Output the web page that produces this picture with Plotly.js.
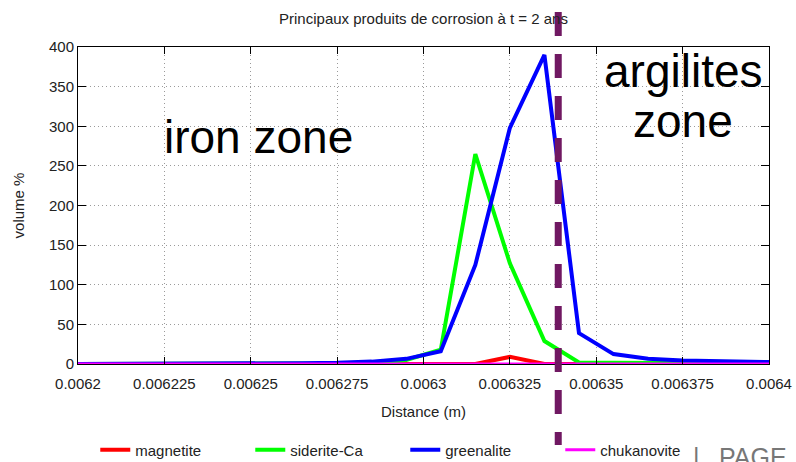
<!DOCTYPE html>
<html><head><meta charset="utf-8">
<script src="https://cdn.plot.ly/plotly-3.0.1.min.js"></script>
<style>html,body{margin:0;padding:0;background:#fff}#chart{width:796px;height:462px}</style>
</head><body><div id="chart"></div>
<script>
// ---- data ----
const distance = [0.0062, 0.006205, 0.006215, 0.006225, 0.006235, 0.006245, 0.006255, 0.006265, 0.006275, 0.006285, 0.006295,
                  0.006305, 0.006315, 0.006325, 0.006335, 0.006345, 0.006355, 0.006365, 0.006375, 0.006385, 0.006395, 0.0064];
const magnetite   = [0, 0, 0, 0, 0, 0, 0, 0, 0, 0, 0, 0, 0, 9, 0, 0, 0, 0, 0, 0, 0, 0];
const sideriteCa  = [0, 0, 0, 0, 0, 0, 0, 0, 0.5, 1, 5, 18, 265, 127, 29, 2, 1.5, 1, 1, 0.5, 0.5, 0.5];
const greenalite  = [0, 0, 0, 0, 0.2, 0.4, 0.7, 1, 1.5, 3, 6.5, 16, 125, 298, 390, 39, 12.5, 6.5, 4.5, 3.5, 2.5, 2.5];
const chukanovite = [0, 0, 0, 0, 0, 0, 0, 0, 0, 0, 0, 0, 0, 0, 0, 0, 0, 0, 0, 0, 0, 0];

const seriesNames  = ["magnetite", "siderite-Ca", "greenalite", "chukanovite"];
const seriesValues = [magnetite, sideriteCa, greenalite, chukanovite];
const seriesColors = ["#ff0000", "#00ff00", "#0000ff", "#ff00ff"];
const seriesWidths = [4, 4, 4, 3];

const xTickValues = [0.0062, 0.006225, 0.00625, 0.006275, 0.0063, 0.006325, 0.00635, 0.006375, 0.0064];
const xTickLabels = ["0.0062", "0.006225", "0.00625", "0.006275", "0.0063", "0.006325", "0.00635", "0.006375", "0.0064"];
const boundaryX = 0.006339;

const titleText = "Principaux produits de corrosion à t = 2 ans";
const xTitle = "Distance (m)";
const yTitle = "volume %";
const zoneLeft = "iron zone";
const zoneRight = ["argilites", "zone"];

// ---- chart ----
const smallFont = {family: "Liberation Sans, Arial, sans-serif", size: 15, color: "#222"};
const bigFont = {family: "Liberation Sans, Arial, sans-serif", size: 46, color: "#000"};
const pageFont = {family: "Liberation Sans, Arial, sans-serif", size: 25, color: "#777"};

const traces = seriesNames.map((name, i) => ({
  type: "scatter", mode: "lines", name: name,
  x: distance, y: seriesValues[i],
  line: {color: seriesColors[i], width: seriesWidths[i]}
}));

const layout = {
  width: 796, height: 462,
  margin: {l: 78, r: 27, t: 47, b: 98, autoexpand: false},
  paper_bgcolor: "#fff", plot_bgcolor: "#fff",
  font: smallFont,
  title: {text: titleText, font: smallFont, x: 0.5, xref: "paper", xanchor: "center", y: 0.959, yref: "container", yanchor: "middle"},
  xaxis: {
    range: [0.0062, 0.0064], tickvals: xTickValues, ticktext: xTickLabels,
    showline: true, linecolor: "#000", linewidth: 1, mirror: "ticks",
    ticks: "inside", ticklen: 7, tickcolor: "#000", ticklabelstandoff: 6,
    showgrid: true, gridcolor: "#9a9a9a", gridwidth: 1, griddash: "1px,3px",
    zeroline: false, tickfont: smallFont,
    title: {text: xTitle, font: smallFont, standoff: 15}
  },
  yaxis: {
    range: [0, 400], dtick: 50, tick0: 0,
    showline: true, linecolor: "#000", linewidth: 1, mirror: "ticks",
    ticks: "inside", ticklen: 8, tickcolor: "#000",
    showgrid: true, gridcolor: "#9a9a9a", gridwidth: 1, griddash: "1px,3px",
    zeroline: false, tickfont: smallFont,
    title: {text: yTitle, font: smallFont, standoff: 20}
  },
  showlegend: true,
  legend: {
    orientation: "h", x: 0.025, xanchor: "left", y: -0.271, yanchor: "middle",
    entrywidth: 110, entrywidthmode: "pixels",
    font: smallFont, bgcolor: "rgba(0,0,0,0)"
  },
  shapes: [{
    type: "line", xref: "x", yref: "paper",
    x0: boundaryX, x1: boundaryX, y0: 1.1104, y1: -0.2555,
    line: {color: "#701862", width: 7, dash: "24px,18px"},
    layer: "above"
  }],
  annotations: [
    {text: zoneLeft, xref: "paper", yref: "paper", x: 0.2616, y: 0.715, xanchor: "center", yanchor: "middle", showarrow: false, font: bigFont},
    {text: zoneRight[0], xref: "paper", yref: "paper", x: 0.8763, y: 0.925, xanchor: "center", yanchor: "middle", showarrow: false, font: bigFont},
    {text: zoneRight[1], xref: "paper", yref: "paper", x: 0.8759, y: 0.767, xanchor: "center", yanchor: "middle", showarrow: false, font: bigFont},
    {text: "|", xref: "paper", yref: "paper", x: 0.8957, y: -0.292, xanchor: "center", yanchor: "middle", showarrow: false, font: pageFont},
    {text: "PAGE", xref: "paper", yref: "paper", x: 0.9251, y: -0.292, xanchor: "left", yanchor: "middle", showarrow: false, font: pageFont}
  ]
};

Plotly.newPlot("chart", traces, layout, {displayModeBar: false, responsive: false});
</script>
</body></html>
